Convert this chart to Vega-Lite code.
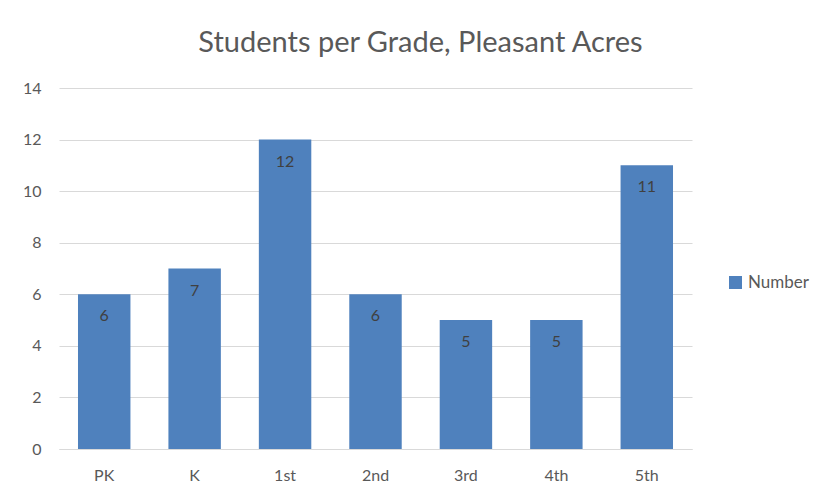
{
  "$schema": "https://vega.github.io/schema/vega-lite/v6.json",
  "autosize": "none",
  "width": 633,
  "height": 361,
  "padding": {"left": 59, "top": 88, "right": 136, "bottom": 50},
  "background": "white",
  "title": {
    "text": "Students per Grade, Pleasant Acres",
    "font": "Lato",
    "fontSize": 29,
    "fontWeight": "normal",
    "color": "#595959",
    "anchor": "middle",
    "dx": 45,
    "offset": 22
  },
  "data": {
    "values": [
      {"grade": "PK", "Number": 6},
      {"grade": "K", "Number": 7},
      {"grade": "1st", "Number": 12},
      {"grade": "2nd", "Number": 6},
      {"grade": "3rd", "Number": 5},
      {"grade": "4th", "Number": 5},
      {"grade": "5th", "Number": 11}
    ]
  },
  "encoding": {
    "x": {
      "field": "grade",
      "type": "nominal",
      "sort": null,
      "scale": {"paddingInner": 0.42, "paddingOuter": 0.21},
      "axis": {
        "title": null,
        "labelAngle": 0,
        "ticks": false,
        "domainColor": "#d9d9d9",
        "domainWidth": 1,
        "labelFont": "Lato",
        "labelFontSize": 16,
        "labelColor": "#595959",
        "labelPadding": 18
      }
    },
    "y": {
      "field": "Number",
      "type": "quantitative",
      "scale": {"domain": [0, 14]},
      "axis": {
        "title": null,
        "values": [0, 2, 4, 6, 8, 10, 12, 14],
        "domain": false,
        "ticks": false,
        "gridColor": "#d9d9d9",
        "labelFont": "Lato",
        "labelFontSize": 16,
        "labelColor": "#595959",
        "labelPadding": 18
      }
    }
  },
  "layer": [
    {
      "mark": {"type": "bar", "color": "#4F81BD"},
      "encoding": {
        "color": {
          "datum": "Number",
          "type": "nominal",
          "scale": {"range": ["#4F81BD"]},
          "legend": {
            "title": null,
            "orient": "none",
            "legendX": 668,
            "legendY": 186,
            "symbolType": "square",
            "symbolSize": 170,
            "symbolStrokeWidth": 0,
            "labelFont": "Lato",
            "labelFontSize": 17,
            "labelColor": "#595959",
            "labelOffset": 4
          }
        }
      }
    },
    {
      "mark": {"type": "text", "baseline": "top", "dy": 14, "font": "Lato", "fontSize": 16, "color": "#404040"},
      "encoding": {"text": {"field": "Number", "type": "quantitative"}}
    }
  ],
  "config": {"view": {"stroke": null}}
}
